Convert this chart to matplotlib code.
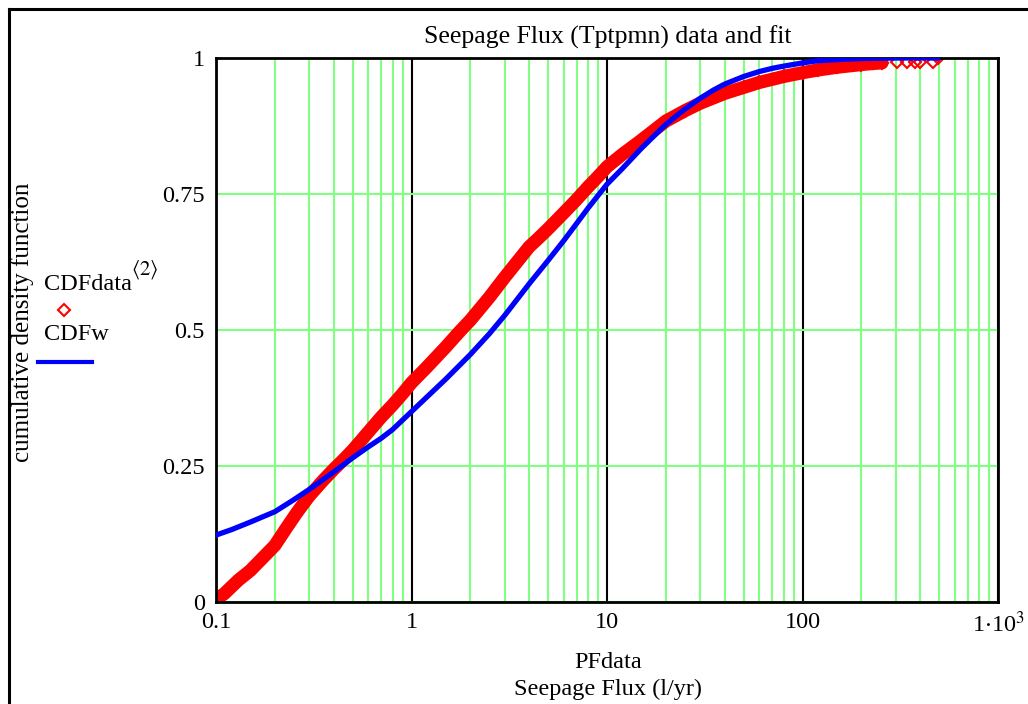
import numpy as np
import matplotlib.pyplot as plt
from matplotlib.lines import Line2D
from matplotlib.ticker import LogLocator, NullFormatter

plt.rcParams['font.family'] = ['Liberation Serif', 'DejaVu Serif']
plt.rcParams['mathtext.fontset'] = 'stix'

pf_data = [0.1, 0.11, 0.12, 0.13, 0.15, 0.17, 0.2, 0.23, 0.26, 0.3, 0.35, 0.4, 0.45,
           0.5, 0.6, 0.7, 0.8, 0.9, 1.0, 1.2, 1.5, 1.75, 2.0, 2.5, 3.0, 3.5, 4.0,
           4.5, 5.0, 6.0, 7.0, 8.0, 9.0, 10, 12, 15, 20, 25, 30, 40, 50, 60, 80,
           100, 120, 150, 200, 230, 255, 303, 341, 376, 399, 465, 493]
cdf_data = [0.005, 0.015, 0.028, 0.040, 0.058, 0.078, 0.104, 0.137, 0.165, 0.195,
            0.222, 0.244, 0.262, 0.279, 0.312, 0.340, 0.362, 0.383, 0.403, 0.432,
            0.469, 0.496, 0.518, 0.560, 0.597, 0.627, 0.653, 0.670, 0.686, 0.715,
            0.740, 0.763, 0.782, 0.800, 0.823, 0.849, 0.884, 0.903, 0.917, 0.935,
            0.946, 0.955, 0.966, 0.973, 0.978, 0.983, 0.988, 0.990, 0.991, 0.992,
            0.992, 0.993, 0.993, 0.992, 1.0]

# fitted Weibull CDF
pf_fit = [0.1, 0.12, 0.15, 0.2, 0.25, 0.3, 0.4, 0.5, 0.6, 0.7, 0.8, 1.0, 1.2, 1.5,
          2.0, 2.5, 3.0, 4.0, 5.0, 6.0, 7.0, 8.0, 10, 12, 15, 20, 25, 30, 35, 40,
          50, 60, 70, 80, 100, 120, 150, 200, 300, 490]
cdf_fit = [0.123, 0.133, 0.147, 0.166, 0.188, 0.207, 0.239, 0.265, 0.285, 0.301,
           0.317, 0.350, 0.377, 0.410, 0.455, 0.493, 0.527, 0.585, 0.628, 0.664,
           0.696, 0.724, 0.768, 0.797, 0.834, 0.878, 0.906, 0.926, 0.941, 0.952,
           0.966, 0.975, 0.981, 0.985, 0.991, 0.995, 0.997, 0.999, 1.0, 1.0]

x_ticks = [0.1, 1, 10, 100, 1000]
x_labels = ['0.1', '1', '10', '100', r'1$\cdot$10$^{3}$']
y_ticks = [0, 0.25, 0.5, 0.75, 1]
y_labels = ['0', '0.25', '0.5', '0.75', '1']

green = '#80ff80'
fs = 17.5
W, H = 1028, 704
fig = plt.figure(figsize=(W / 100, H / 100), dpi=100)
ax = fig.add_axes([216 / W, 1 - 602 / H, (998 - 216) / W, (602 - 58) / H])

ax.set_xscale('log')
ax.set_xlim(0.1, 1000)
ax.set_ylim(0, 1)
ax.xaxis.set_minor_locator(LogLocator(base=10, subs=np.arange(2, 10)))
ax.xaxis.set_minor_formatter(NullFormatter())
ax.set_xticks(x_ticks)
ax.set_xticklabels(x_labels)
ax.set_yticks(y_ticks)
ax.set_yticklabels(y_labels)
ax.tick_params(which='both', length=0, labelsize=fs)
ax.tick_params(axis='x', pad=7)
ax.tick_params(axis='y', pad=8)

ax.set_axisbelow(True)
ax.grid(which='minor', axis='x', color=green, lw=1.5)
ax.grid(which='major', axis='x', color='black', lw=1.5)
ax.grid(which='major', axis='y', color=green, lw=1.5)
for s in ax.spines.values():
    s.set_linewidth(2)

# dense part drawn as thick band, tail as single diamonds
pf = np.array(pf_data)
cdf = np.array(cdf_data)
dense = pf <= 260
ax.plot(pf[dense], cdf[dense], color='red', lw=9.5, solid_capstyle='round',
        solid_joinstyle='round', zorder=2)
ax.plot(pf, cdf, ls='none', marker='D', ms=6.5, mfc='none', mec='red', mew=1.5, zorder=2)
ax.plot(pf_fit, cdf_fit, color='blue', lw=3.8, zorder=3)

# texts
fig.text(608 / W, 1 - 37 / H, 'Seepage Flux (Tptpmn) data and fit', ha='center', va='center', fontsize=18.5)
fig.text(608 / W, 1 - 662 / H, 'PFdata', ha='center', va='center', fontsize=fs)
fig.text(608 / W, 1 - 689 / H, 'Seepage Flux (l/yr)', ha='center', va='center', fontsize=fs)
fig.text(23 / W, 1 - 322 / H, 'cumulative density function', rotation=90,
         ha='center', va='center', fontsize=fs + 0.5)

# trace labels on the left
fig.text(44 / W, 1 - 285 / H, 'CDFdata', ha='left', va='center', fontsize=fs)
fig.text(131 / W, 1 - 270 / H, r'$\langle 2\rangle$', ha='left', va='center', fontsize=15)
fig.add_artist(Line2D([64 / W], [1 - 310 / H], ls='none', marker='D', ms=6.5,
                      mfc='none', mec='red', mew=1.5))
fig.text(44 / W, 1 - 335 / H, 'CDFw', ha='left', va='center', fontsize=fs)
fig.add_artist(Line2D([38 / W, 92 / W], [1 - 362 / H, 1 - 362 / H], color='blue', lw=3))

# outer frame (left and top)
fig.add_artist(Line2D([9 / W, 9 / W], [0, 1 - 9 / H], color='black', lw=2.2))
fig.add_artist(Line2D([9 / W, 1], [1 - 9 / H, 1 - 9 / H], color='black', lw=2.2))

fig.savefig('out.png', dpi=100)
